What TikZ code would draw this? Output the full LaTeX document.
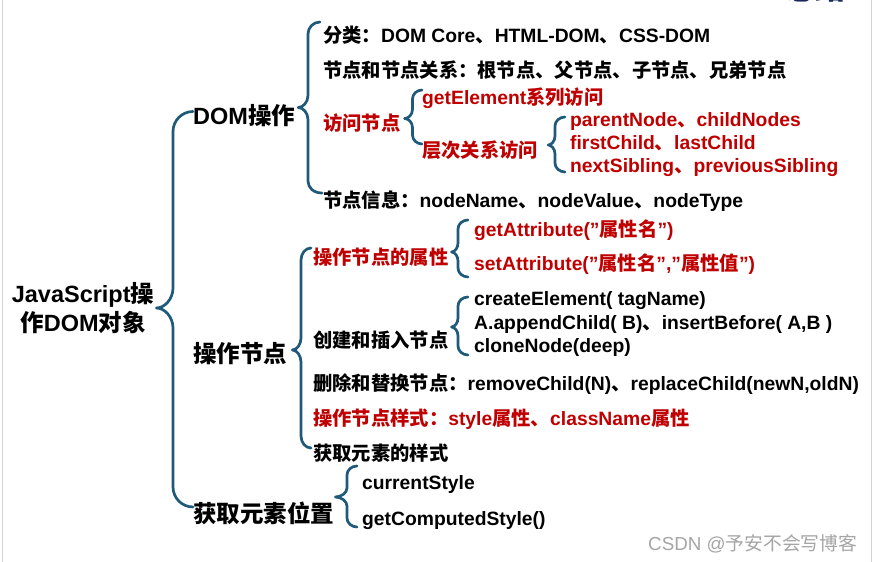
\documentclass[tikz,border=0pt]{standalone}
\usepackage{fontspec}
\setmainfont{Liberation Sans}[Ligatures=ResetAll]
\newfontfamily\zh{Noto Sans CJK SC}
\usetikzlibrary{calc}
\definecolor{brc}{RGB}{31,90,122}
\definecolor{myred}{RGB}{192,0,0}
\definecolor{wm}{RGB}{165,165,165}
\definecolor{framegray}{RGB}{212,212,212}
\definecolor{navy}{RGB}{25,40,90}
\newcommand\z[1]{{\zh #1}}
% brace: #1 tip, #2 top end, #3 bottom end, #4 curl width, #5 curl height
\newcommand\brc[5]{%
  \draw[bracestyle] let \p1=#1, \p2=#2, \p3=#3 in
    (\p2) .. controls (\x2-0.55*#4pt,\y2) and (\x2-#4pt,\y2-0.45*#5pt) .. (\x2-#4pt,\y2-#5pt)
    -- (\x2-#4pt,\y1+#5pt)
    .. controls (\x2-#4pt,\y1+0.45*#5pt) and ({0.5*\x1+0.5*(\x2-#4pt)},\y1) .. (\p1)
    .. controls ({0.5*\x1+0.5*(\x2-#4pt)},\y1) and (\x2-#4pt,\y1-0.45*#5pt) .. (\x2-#4pt,\y1-#5pt)
    -- (\x2-#4pt,\y3+#5pt)
    .. controls (\x2-#4pt,\y3+0.45*#5pt) and (\x2-0.55*#4pt,\y3) .. (\p3);}
\tikzset{
  tbig/.style={anchor=base west, inner sep=0pt, font=\fontsize{23.5}{28}\selectfont\bfseries},
  tmid/.style={anchor=base west, inner sep=0pt, font=\fontsize{19.3}{23}\selectfont\bfseries},
  hl/.style={text=myred},
  bracestyle/.style={draw=brc, line width=2.7pt, line cap=round, line join=round},
}
\begin{document}
\begin{tikzpicture}[x=1pt,y=-1pt]
\useasboundingbox[fill=white] (0,0) rectangle (873,562);
\draw[framegray, line width=1.5pt] (2.5,0) -- (2.5,562);
\draw[framegray, line width=1.5pt] (871.5,0) -- (871.5,562);
\begin{scope}
\clip (0,0) rectangle (873,562);
\node[anchor=base, inner sep=0pt, text=navy, font=\fontsize{30}{30}\selectfont\bfseries] (title) at (815,0) {\z{总结}};
\end{scope}

% root
\node[inner sep=0pt, align=center, font=\fontsize{23.5}{29}\selectfont\bfseries] (root) at (83,308) {JavaScript\z{操}\\\z{作}DOM\z{对象}};

% level 1
\node[tbig] (dom) at (193,124.5) {DOM\z{操作}};
\node[tbig] (czjd) at (193,362) {\z{操作节点}};
\node[tbig] (hqwz) at (193,522) {\z{获取元素位置}};

% DOM branch
\node[tmid] (fenlei) at (323,42) {\z{分类：}DOM Core\z{、}HTML-DOM\z{、}CSS-DOM};
\node[tmid] (guanxi) at (323,77) {\z{节点和节点关系：根节点、父节点、子节点、兄弟节点}};
\node[tmid,hl] (fangwen) at (323,130.5) {\z{访问节点}};
\node[tmid] (xinxi) at (323,207) {\z{节点信息：}nodeName\z{、}nodeValue\z{、}nodeType};
\node[tmid,hl] (getel) at (422,104) {getElement\z{系列访问}};
\node[tmid,hl] (cengci) at (422,157) {\z{层次关系访问}};
\node[tmid,hl] (pn) at (570,126) {parentNode\z{、}childNodes};
\node[tmid,hl] (fc) at (570,149) {firstChild\z{、}lastChild};
\node[tmid,hl] (ns) at (570,172) {nextSibling\z{、}previousSibling};

% node operations branch
\node[tmid,hl] (czsx) at (313,264) {\z{操作节点的属性}};
\node[tmid,hl] (getattr) at (474,236) {getAttribute("\z{属性名}")};
\node[tmid,hl] (setattr) at (474,270) {setAttribute("\z{属性名}","\z{属性值}")};
\node[tmid] (cjcr) at (313,347) {\z{创建和插入节点}};
\node[tmid] (ce) at (474,305) {createElement( tagName)};
\node[tmid] (ac) at (474,329) {A.appendChild( B)\z{、}insertBefore( A,B )};
\node[tmid] (cn) at (474,352) {cloneNode(deep)};
\node[tmid] (sc) at (313,390) {\z{删除和替换节点：}removeChild(N)\z{、}replaceChild(newN,oldN)};
\node[tmid,hl] (ys) at (313,425) {\z{操作节点样式：}style\z{属性、}className\z{属性}};
\node[tmid] (hqys) at (313,460) {\z{获取元素的样式}};

% position branch
\node[tmid] (cs) at (362,489) {currentStyle};
\node[tmid] (gcs) at (362,525) {getComputedStyle()};

% watermark
\node[anchor=base west, inner sep=0pt, text=wm, font=\fontsize{18.8}{20}\selectfont] (wmk) at (648,550) {CSDN @\z{予安不会写博客}};

% braces
\brc{($(root.east)+(2,0)$)}{($(dom.base west)+(0,-13)$)}{($(hqwz.base west)+(0,-15)$)}{20}{20}
\brc{($(dom.base east)+(3,-17)$)}{($(fenlei.base west)+(-3,-20)$)}{($(xinxi.base west)+(-1,-14)$)}{12}{12}
\brc{($(fangwen.base east)+(4,-12)$)}{($(getel.base west)+(0,-14)$)}{($(cengci.base west)+(0,-13)$)}{9.5}{9}
\brc{($(cengci.base east)+(10,-12)$)}{($(pn.base west)+(-5,-9)$)}{($(ns.base west)+(-5,0)$)}{10}{9}
\brc{($(czjd.base east)+(5,-12)$)}{($(czsx.base west)+(-2,-16)$)}{($(hqys.base west)+(-2,-12)$)}{10}{12}
\brc{($(czsx.base east)+(3,-12)$)}{($(getattr.base west)+(-6,-16)$)}{($(setattr.base west)+(-6,7)$)}{10}{9}
\brc{($(cjcr.base east)+(3,-20)$)}{($(ce.base west)+(-6,-8)$)}{($(cn.base west)+(-6,3)$)}{10}{9}
\brc{($(hqwz.base east)+(1,-25)$)}{($(cs.base west)+(-5,-23)$)}{($(gcs.base west)+(-5,2)$)}{10}{9}
\end{tikzpicture}
\end{document}
